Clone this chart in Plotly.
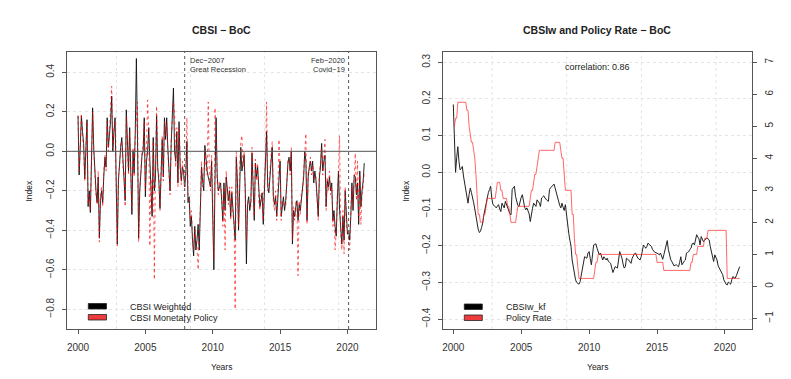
import plotly.graph_objects as go

# ---- data (monthly, starting Jan 2000) ----
START_YEAR = 2000

# left panel: CBSI series
cbsi_weighted = [
    0.18, -0.12, 0.02, 0.18, 0.10, 0.04, -0.14, 0.00, 0.16, -0.28, -0.20, -0.31,
    -0.05, 0.22, 0.02, -0.10, -0.20, -0.26, -0.13, -0.44, -0.25, -0.20, -0.26, -0.12,
    -0.03, -0.08, 0.17, 0.02, 0.08, 0.15, 0.28, 0.00, 0.10, 0.17, -0.15, -0.47,
    -0.15, -0.05, 0.02, 0.07, -0.06, -0.12, -0.25, 0.21, 0.02, -0.10, 0.12, -0.05,
    -0.32, 0.00, -0.11, 0.10, 0.47, 0.06, -0.44, -0.20, -0.08, -0.02, 0.00, 0.17,
    -0.23, -0.05, 0.00, 0.12, -0.05, -0.16, -0.33, 0.07, -0.20, -0.13, 0.18, -0.08,
    -0.15, -0.29, -0.08, 0.06, -0.13, 0.17, 0.06, 0.17, 0.02, -0.08, -0.20, 0.04,
    0.22, 0.32, 0.00, -0.05, 0.10, -0.16, 0.15, -0.08, -0.15, -0.08, -0.10, -0.18,
    -0.12, 0.05, -0.26, -0.23, -0.38, -0.33, -0.45, -0.53, -0.38, -0.50, -0.45, -0.37,
    -0.50, -0.30, -0.08, -0.15, -0.20, 0.03, -0.06, -0.10, -0.13, -0.15, -0.18, -0.05,
    -0.30, -0.60, -0.16, 0.17, -0.13, -0.20, -0.18, -0.16, -0.25, -0.35, -0.16, -0.30,
    -0.13, -0.20, -0.25, -0.20, -0.33, -0.21, -0.30, -0.37, -0.45, -0.03, -0.15, -0.40,
    -0.10, 0.02, -0.10, -0.05, -0.02, -0.20, -0.57, -0.27, -0.23, -0.30, -0.25, -0.01,
    -0.20, -0.35, -0.06, -0.13, -0.08, -0.23, -0.28, -0.25, -0.21, -0.37, -0.16, -0.05,
    0.10, -0.18, -0.21, -0.10, -0.05, 0.02, -0.23, -0.27, -0.23, -0.33, -0.23, -0.15,
    -0.05, -0.33, -0.27, -0.23, -0.30, -0.25, -0.16, -0.06, -0.03, -0.10, 0.00, -0.47,
    -0.30, -0.33, -0.28, -0.25, -0.35, -0.27, -0.30, -0.23, -0.18, -0.13, 0.00, -0.05,
    -0.35, -0.13, -0.08, -0.05, -0.10, -0.05, -0.16, -0.10, -0.15, -0.25, -0.33, -0.13,
    -0.08, 0.04, -0.10, -0.05, -0.02, -0.28, -0.15, -0.18, -0.13, -0.20, -0.16, -0.35,
    -0.30, -0.38, -0.43, -0.25, -0.10, -0.30, -0.40, -0.47, -0.33, -0.45, -0.20, -0.35,
    -0.42, -0.40, -0.45, -0.33, -0.16, -0.30, -0.12, -0.13, -0.22, -0.16, -0.37, -0.10,
    -0.28, -0.20, -0.15, -0.06,
]

cbsi_monetary = [
    0.18, -0.10, 0.00, 0.19, 0.08, 0.02, -0.15, 0.02, 0.15, -0.27, -0.22, -0.30,
    -0.03, 0.20, 0.00, -0.12, -0.22, -0.27, -0.10, -0.46, -0.22, -0.18, -0.28, -0.10,
    -0.02, -0.10, 0.15, 0.00, 0.10, 0.18, 0.33, 0.02, 0.12, 0.15, -0.18, -0.48,
    -0.12, -0.08, 0.04, 0.05, -0.08, -0.10, -0.28, 0.18, 0.00, -0.12, 0.10, -0.08,
    -0.30, 0.02, -0.13, 0.08, 0.15, 0.25, -0.46, -0.18, -0.10, 0.00, 0.03, 0.15,
    -0.20, -0.02, 0.26, 0.10, -0.48, -0.14, -0.30, 0.05, -0.65, -0.10, 0.23, -0.10,
    -0.12, -0.30, -0.05, 0.08, -0.15, 0.15, 0.08, 0.14, 0.00, -0.10, -0.22, 0.06,
    0.18, 0.25, 0.20, -0.08, 0.12, -0.18, 0.12, -0.05, -0.17, -0.05, -0.12, -0.20,
    -0.10, 0.17, -0.24, -0.26, -0.35, -0.30, -0.42, -0.50, -0.40, -0.46, -0.48, -0.60,
    -0.46, -0.28, -0.05, -0.18, -0.15, 0.00, -0.08, -0.12, 0.25, -0.12, -0.20, -0.02,
    -0.28, -0.55, 0.22, 0.10, -0.15, -0.22, -0.15, -0.20, -0.22, -0.38, -0.18, -0.50,
    -0.10, -0.22, -0.27, -0.18, -0.35, -0.18, -0.32, -0.35, -0.80, 0.00, -0.18, -0.38,
    -0.08, 0.05, 0.08, -0.08, 0.00, -0.22, -0.45, -0.25, -0.26, -0.28, -0.28, 0.02,
    -0.22, -0.33, -0.04, -0.15, -0.06, -0.25, -0.30, -0.22, -0.24, -0.35, -0.14, -0.02,
    0.25, -0.20, -0.18, -0.12, -0.02, 0.05, -0.25, -0.30, -0.20, -0.35, -0.20, 0.06,
    -0.08, -0.35, -0.25, -0.26, -0.28, -0.28, -0.14, -0.04, -0.05, -0.12, 0.02, -0.45,
    -0.28, -0.35, -0.25, -0.27, -0.63, -0.25, -0.32, -0.20, -0.20, -0.10, 0.02, 0.09,
    -0.37, -0.10, -0.10, -0.03, -0.12, -0.07, -0.14, -0.12, -0.13, -0.28, -0.35, -0.10,
    -0.06, 0.02, -0.12, -0.03, 0.06, -0.30, -0.13, -0.20, -0.10, -0.22, -0.18, -0.38,
    -0.33, -0.50, -0.40, -0.22, -0.12, 0.08, -0.42, -0.50, -0.30, -0.52, -0.18, -0.38,
    -0.40, -0.44, -0.50, -0.30, -0.18, -0.28, -0.10, -0.01, -0.25, -0.05, -0.35, -0.12,
    -0.37, -0.22, -0.18, -0.10,
]

# right panel: filtered weighted index and BoC policy rate
cbsiw_kf = [
    0.185, 0.10, 0.0, 0.04, 0.07, 0.03, 0.007, 0.01, 0.016, -0.01, -0.03, -0.047,
    -0.065, -0.084, -0.06, -0.043, -0.055, -0.066, -0.083, -0.10, -0.12, -0.14, -0.155, -0.164,
    -0.161, -0.15, -0.138, -0.116, -0.10, -0.09, -0.075, -0.055, -0.047, -0.038, -0.07, -0.088,
    -0.09, -0.093, -0.097, -0.092, -0.088, -0.10, -0.107, -0.084, -0.09, -0.097, -0.079, -0.088,
    -0.10, -0.109, -0.113, -0.116, -0.047, -0.042, -0.038, -0.066, -0.084, -0.09, -0.093, -0.075,
    -0.068, -0.061, -0.084, -0.095, -0.102, -0.097, -0.105, -0.113, -0.134, -0.111, -0.098, -0.084,
    -0.09, -0.093, -0.075, -0.08, -0.084, -0.093, -0.07, -0.067, -0.064, -0.07, -0.075, -0.077,
    -0.079, -0.047, -0.042, -0.038, -0.035, -0.032, -0.043, -0.055, -0.066, -0.084, -0.09, -0.097,
    -0.084, -0.095, -0.104, -0.088, -0.12, -0.143, -0.166, -0.185, -0.202, -0.239, -0.26, -0.275,
    -0.293, -0.30, -0.304, -0.305, -0.298, -0.28, -0.266, -0.248, -0.23, -0.232, -0.234, -0.22,
    -0.216, -0.235, -0.252, -0.225, -0.198, -0.196, -0.195, -0.207, -0.218, -0.225, -0.22, -0.23,
    -0.239, -0.23, -0.235, -0.239, -0.234, -0.243, -0.245, -0.248, -0.261, -0.273, -0.265, -0.257,
    -0.259, -0.261, -0.239, -0.216, -0.225, -0.234, -0.25, -0.261, -0.257, -0.234, -0.237, -0.239,
    -0.244, -0.248, -0.234, -0.225, -0.222, -0.22, -0.23, -0.234, -0.236, -0.239, -0.23, -0.215,
    -0.198, -0.202, -0.207, -0.202, -0.193, -0.196, -0.198, -0.202, -0.21, -0.215, -0.218, -0.219,
    -0.22, -0.222, -0.225, -0.22, -0.228, -0.237, -0.225, -0.211, -0.198, -0.186, -0.21, -0.23,
    -0.237, -0.243, -0.25, -0.255, -0.253, -0.252, -0.255, -0.257, -0.245, -0.23, -0.252, -0.245,
    -0.242, -0.239, -0.22, -0.218, -0.216, -0.21, -0.207, -0.195, -0.193, -0.198, -0.185, -0.17,
    -0.176, -0.181, -0.198, -0.175, -0.182, -0.189, -0.185, -0.182, -0.179, -0.181, -0.184, -0.202,
    -0.215, -0.225, -0.243, -0.225, -0.232, -0.239, -0.255, -0.261, -0.27, -0.275, -0.279, -0.293,
    -0.30, -0.305, -0.307, -0.299, -0.302, -0.305, -0.293, -0.284, -0.287, -0.289, -0.282, -0.275,
    -0.264, -0.257,
]

policy_rate = [
    5.00, 5.00, 5.25, 5.25, 5.75, 5.75, 5.75, 5.75, 5.75, 5.75, 5.75, 5.75,
    5.50, 5.50, 5.00, 4.75, 4.50, 4.50, 4.25, 4.00, 3.50, 2.75, 2.25, 2.25,
    2.00, 2.00, 2.00, 2.25, 2.25, 2.50, 2.75, 2.75, 2.75, 2.75, 2.75, 2.75,
    2.75, 2.75, 3.00, 3.25, 3.25, 3.25, 3.00, 3.00, 2.75, 2.75, 2.75, 2.75,
    2.50, 2.50, 2.25, 2.00, 2.00, 2.00, 2.00, 2.00, 2.25, 2.50, 2.50, 2.50,
    2.50, 2.50, 2.50, 2.50, 2.50, 2.50, 2.50, 2.50, 2.75, 3.00, 3.00, 3.25,
    3.50, 3.50, 3.75, 4.00, 4.25, 4.25, 4.25, 4.25, 4.25, 4.25, 4.25, 4.25,
    4.25, 4.25, 4.25, 4.25, 4.25, 4.25, 4.50, 4.50, 4.50, 4.50, 4.50, 4.25,
    4.00, 4.00, 3.50, 3.00, 3.00, 3.00, 3.00, 3.00, 3.00, 2.25, 2.25, 1.50,
    1.00, 1.00, 0.50, 0.25, 0.25, 0.25, 0.25, 0.25, 0.25, 0.25, 0.25, 0.25,
    0.25, 0.25, 0.25, 0.25, 0.25, 0.50, 0.75, 0.75, 1.00, 1.00, 1.00, 1.00,
    1.00, 1.00, 1.00, 1.00, 1.00, 1.00, 1.00, 1.00, 1.00, 1.00, 1.00, 1.00,
    1.00, 1.00, 1.00, 1.00, 1.00, 1.00, 1.00, 1.00, 1.00, 1.00, 1.00, 1.00,
    1.00, 1.00, 1.00, 1.00, 1.00, 1.00, 1.00, 1.00, 1.00, 1.00, 1.00, 1.00,
    1.00, 1.00, 1.00, 1.00, 1.00, 1.00, 1.00, 1.00, 1.00, 1.00, 1.00, 1.00,
    0.75, 0.75, 0.75, 0.75, 0.75, 0.75, 0.50, 0.50, 0.50, 0.50, 0.50, 0.50,
    0.50, 0.50, 0.50, 0.50, 0.50, 0.50, 0.50, 0.50, 0.50, 0.50, 0.50, 0.50,
    0.50, 0.50, 0.50, 0.50, 0.50, 0.50, 0.75, 0.75, 1.00, 1.00, 1.00, 1.00,
    1.25, 1.25, 1.25, 1.25, 1.25, 1.25, 1.50, 1.50, 1.50, 1.75, 1.75, 1.75,
    1.75, 1.75, 1.75, 1.75, 1.75, 1.75, 1.75, 1.75, 1.75, 1.75, 1.75, 1.75,
    1.75, 1.75, 0.25, 0.25, 0.25, 0.25, 0.25, 0.25, 0.25, 0.25, 0.25, 0.25,
    0.25, 0.25,
]

year_ticks = [2000, 2005, 2010, 2015, 2020]
grid_years = [2002.85, 2008.35, 2013.85, 2019.35]
events = [(2007 + 11 / 12, "Dec−2007", "Great Recession"), (2020 + 1 / 12, "Feb−2020", "Covid−19")]
correlation = 0.86

# the page body keeps its default 8px margin, so the figure is drawn 8px smaller
# and all pixel positions below are measured from the window corner
PAGE_MARGIN = 8
W, H = 791 - PAGE_MARGIN, 379 - PAGE_MARGIN
FONT = "Liberation Sans, Arial, sans-serif"


def months(series):
    return [START_YEAR + i / 12 for i in range(len(series))]


def px(x):
    return (x - PAGE_MARGIN) / W


def py(y):
    return 1 - (y - PAGE_MARGIN) / H


# plot boxes in window pixels
L_BOX = (66.7, 376.0)
R_BOX = (442.7, 752.0)
TOP, BOT = 52.0, 329.0

fig = go.Figure()
fig.add_trace(go.Scatter(x=months(cbsi_weighted), y=cbsi_weighted, mode="lines",
                         line=dict(color="#111", width=0.9), xaxis="x", yaxis="y"))
fig.add_trace(go.Scatter(x=months(cbsi_monetary), y=cbsi_monetary, mode="lines",
                         line=dict(color="rgba(255,0,0,0.7)", width=0.9, dash="dot"), xaxis="x", yaxis="y"))
fig.add_trace(go.Scatter(x=months(cbsiw_kf), y=cbsiw_kf, mode="lines",
                         line=dict(color="#222", width=1), xaxis="x2", yaxis="y2"))
fig.add_trace(go.Scatter(x=months(policy_rate), y=policy_rate, mode="lines",
                         line=dict(color="rgba(255,40,40,0.7)", width=1), xaxis="x2", yaxis="y3"))

axis_common = dict(showline=True, linecolor="#555", linewidth=1, ticks="outside", ticklen=4,
                   tickcolor="#555", tickfont=dict(family=FONT, size=10, color="#333"),
                   zeroline=False)
GRID = "#e4e4e4"

ydom = [py(BOT), py(TOP)]
fig.update_layout(
    width=W, height=H, margin=dict(l=0, r=0, t=0, b=0),
    paper_bgcolor="white", plot_bgcolor="white", showlegend=False,
    xaxis=dict(domain=[px(L_BOX[0]), px(L_BOX[1])], range=[1999.16, 2022.12], anchor="y",
               tickvals=year_ticks, mirror=True, showgrid=False, ticklabelstandoff=5, **axis_common),
    yaxis=dict(domain=ydom, range=[-0.9, 0.503], anchor="x", tickvals=[-0.8, -0.6, -0.4, -0.2, 0.0, 0.2, 0.4],
               tickformat=".1f", tickangle=-90, mirror=True, showgrid=True, gridcolor=GRID,
               griddash="dot", ticklabelstandoff=4, **axis_common),
    xaxis2=dict(domain=[px(R_BOX[0]), px(R_BOX[1])], range=[1999.22, 2021.99], anchor="y2",
                tickvals=year_ticks, mirror=True, showgrid=False, ticklabelstandoff=5, **axis_common),
    yaxis2=dict(domain=ydom, range=[-0.427, 0.328], anchor="x2",
                tickvals=[-0.4, -0.3, -0.2, -0.1, 0.0, 0.1, 0.2, 0.3], tickformat=".1f", tickangle=-90,
                mirror=True, showgrid=True, gridcolor=GRID, griddash="dot", ticklabelstandoff=4,
                **axis_common),
    yaxis3=dict(range=[-1.33, 7.32], anchor="x2", overlaying="y2", side="right",
                tickvals=[-1, 0, 1, 2, 3, 4, 5, 6, 7], tickangle=-90, showgrid=False,
                ticklabelstandoff=4, **axis_common),
)

shapes = []
# vertical dotted grid
for xa, ya in (("x", "y"), ("x2", "y2")):
    for g in grid_years:
        shapes.append(dict(type="line", xref=xa, yref=f"{ya} domain", x0=g, x1=g, y0=0, y1=1,
                           line=dict(color=GRID, width=1, dash="dot"), layer="below"))
# zero line in left panel
shapes.append(dict(type="line", xref="x domain", yref="y", x0=0, x1=1, y0=0, y1=0,
                   line=dict(color="#555", width=1)))
# event lines
for ev, _, _ in events:
    shapes.append(dict(type="line", xref="x", yref="y domain", x0=ev, x1=ev, y0=0, y1=1,
                       line=dict(color="#666", width=1.1, dash="dot")))


# legend swatches
def swatch(x0, x1, y0, y1, color):
    return dict(type="rect", xref="paper", yref="paper", x0=px(x0), x1=px(x1), y0=py(y1), y1=py(y0),
                fillcolor=color, line=dict(color="#222", width=0.8))


shapes += [swatch(88.3, 106.5, 303.5, 309, "black"), swatch(88.3, 106.5, 314.5, 320, "#ee3b3b"),
           swatch(464.3, 482.3, 304, 309.5, "black"), swatch(464.3, 482.3, 315, 320.5, "#ee3b3b")]
fig.update_layout(shapes=shapes)

ann = []


def text(x, y, s, size=9, bold=False, xanchor="center", angle=0, color="#222"):
    ann.append(dict(xref="paper", yref="paper", x=px(x), y=py(y), text=f"<b>{s}</b>" if bold else s,
                    showarrow=False, xanchor=xanchor, yanchor="middle", textangle=angle,
                    font=dict(family=FONT, size=size, color=color)))


# titles
text(sum(L_BOX) / 2, 30, "CBSI − BoC", size=10.5, bold=True)
text(sum(R_BOX) / 2, 30, "CBSIw and Policy Rate − BoC", size=10.5, bold=True)
# axis titles
text(sum(L_BOX) / 2, 367, "Years", size=8.5)
text(sum(R_BOX) / 2, 367, "Years", size=8.5)
text(28, (TOP + BOT) / 2, "Index", size=8.5, angle=-90)
text(405, (TOP + BOT) / 2, "Index", size=8.5, angle=-90)
# event labels
text(187.5, 60.5, events[0][1], size=7.5, xanchor="left", color="#333")
text(187.5, 69.5, events[0][2], size=7.5, xanchor="left", color="#333")
text(347, 60.5, events[1][1], size=7.5, xanchor="right", color="#333")
text(347, 69.5, events[1][2], size=7.5, xanchor="right", color="#333")
# correlation
text(sum(R_BOX) / 2, 66.5, f"correlation: {correlation:.2f}", size=9)
# legends
text(128.3, 306.5, "CBSI Weighted", size=9, xanchor="left")
text(128.3, 317.5, "CBSI Monetary Policy", size=9, xanchor="left")
text(504.3, 306.5, "CBSIw_kf", size=9, xanchor="left")
text(504.3, 317.5, "Policy Rate", size=9, xanchor="left")
fig.update_layout(annotations=ann)

fig.write_html("out.html")
